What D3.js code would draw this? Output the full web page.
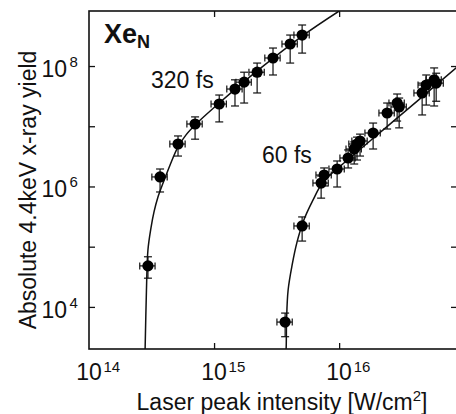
<!DOCTYPE html>
<html>
<head>
<meta charset="utf-8">
<script src="https://cdn.jsdelivr.net/npm/d3@7"></script>
<style>
  html, body { margin: 0; padding: 0; background: #fff; }
  svg { display: block; font-family: "Liberation Sans", Arial, sans-serif; }
</style>
</head>
<body>
<svg id="chart" width="456" height="414"></svg>
<script>
// ---- Measured 4.4 keV x-ray yields, 320 fs pulses ----
const fs320Intensity = [2.96e14, 3.70e14, 5.15e14, 7.05e14, 1.10e15, 1.47e15, 1.74e15, 2.21e15, 2.96e15, 4.06e15, 5.06e15];
const fs320Yield     = [4.8e4, 1.44e6, 5.07e6, 1.09e7, 2.34e7, 4.15e7, 5.4e7, 7.9e7, 1.36e8, 2.32e8, 3.27e8];
const fs320YieldHi   = [6.8e4, 1.95e6, 6.9e6, 1.43e7, 3.3e7, 5.9e7, 7.9e7, 1.12e8, 1.99e8, 3.27e8, 4.8e8];
const fs320YieldLo   = [3.0e4, 8.1e5, 3.2e6, 6.1e6, 1.18e7, 2.17e7, 2.43e7, 3.57e7, 7.1e7, 1.12e8, 1.64e8];

// ---- Measured 4.4 keV x-ray yields, 60 fs pulses ----
const fs60Intensity = [3.70e15, 5.06e15, 7.18e15, 7.59e15, 9.64e15, 1.18e16, 1.32e16, 1.39e16, 1.47e16, 1.87e16, 2.42e16, 2.91e16, 3.02e16, 4.61e16, 4.97e16, 5.75e16, 5.97e16];
const fs60Yield     = [5.6e3, 2.21e5, 1.14e6, 1.55e6, 1.95e6, 2.97e6, 4.19e6, 5.07e6, 5.69e6, 7.73e6, 1.66e7, 2.43e7, 2.09e7, 3.57e7, 4.84e7, 5.9e7, 5.2e7];
const fs60YieldHi   = [7.9e3, 3.12e5, 1.49e6, 2.03e6, 2.65e6, 4.04e6, 5.5e6, 6.6e6, 7.4e6, 1.13e7, 2.43e7, 3.43e7, 2.94e7, 5.2e7, 7.1e7, 9.3e7, 7.6e7];
const fs60YieldLo   = [3.2e3, 1.24e5, 6.4e5, 1.02e6, 9.8e5, 2.03e6, 2.36e6, 2.75e6, 3.2e6, 4.19e6, 9.0e6, 1.22e7, 9.4e6, 1.54e7, 2.25e7, 2.17e7, 2.6e7];

// Relative uncertainty of the laser peak intensity
const intensityRelErr = 0.14;

// ---- Model curves ----
const fs320FitIntensity = [2.78e14, 2.81e14, 2.88e14, 2.96e14, 3.13e14, 3.31e14, 3.56e14, 3.91e14, 4.45e14, 5.15e14, 5.97e14, 7.05e14, 1.10e15, 2.21e15, 5.06e15, 1.0e16];
const fs320FitYield     = [9.0e2, 2.0e3, 1.91e4, 8.8e4, 2.05e5, 3.78e5, 6.7e5, 1.14e6, 2.28e6, 4.53e6, 7.2e6, 1.05e7, 2.43e7, 8.3e7, 3.15e8, 8.2e8];
const fs60FitIntensity  = [3.68e15, 3.77e15, 3.80e15, 3.91e15, 4.21e15, 4.61e15, 5.15e15, 6.19e15, 7.45e15, 1.22e16, 2.25e16, 4.21e16, 8.63e16, 9.64e16];
const fs60FitYield      = [9.0e2, 2.0e3, 6.1e3, 1.91e4, 4.98e4, 1.20e5, 2.58e5, 5.97e5, 1.19e6, 2.97e6, 8.7e6, 2.62e7, 9.3e7, 1.12e8];

// ---- Axes ----
const xDomain = [1e14, 8.6e16];
const yDomain = [2.0e3, 8.2e8];
const xTickValues = [1e14, 1e15, 1e16];
const xTickExponents = ["14", "15", "16"];
const yTickValues = [1e4, 1e5, 1e6, 1e7, 1e8];
const yLabelValues = [1e4, 1e6, 1e8];
const yLabelExponents = ["4", "6", "8"];

const xTitle = "Laser peak intensity [W/cm";
const yTitle = "Absolute 4.4keV x-ray yield";
const seriesLabels = ["320 fs", "60 fs"];

// ---- Layout ----
const plot = { left: 89, top: 11, right: 457, bottom: 349 };
const svg = d3.select("#chart");

const x = d3.scaleLog().domain(xDomain).range([plot.left, 456]);
const y = d3.scaleLog().domain(yDomain).range([plot.bottom, plot.top]);

svg.append("defs").append("clipPath").attr("id", "plotClip")
  .append("rect")
  .attr("x", plot.left).attr("y", plot.top)
  .attr("width", plot.right - plot.left).attr("height", plot.bottom - plot.top);

// Frame
svg.append("rect")
  .attr("x", plot.left).attr("y", plot.top)
  .attr("width", plot.right - plot.left).attr("height", plot.bottom - plot.top)
  .attr("fill", "none").attr("stroke", "#111").attr("stroke-width", 1.6);

// Inward ticks on all sides
const tickLen = 6;
const axisStyle = g => {
  g.select(".domain").remove();
  g.selectAll(".tick line").attr("stroke", "#111").attr("stroke-width", 1.3);
  g.selectAll(".tick text").remove();
};
svg.append("g").attr("transform", `translate(${plot.left},0)`)
  .call(d3.axisLeft(y).tickValues(yTickValues).tickSize(-tickLen)).call(axisStyle);
svg.append("g").attr("transform", `translate(456,0)`)
  .call(d3.axisRight(y).tickValues(yTickValues).tickSize(-tickLen + 1)).call(axisStyle);
svg.append("g").attr("transform", `translate(0,${plot.bottom})`)
  .call(d3.axisBottom(x).tickValues(xTickValues.slice(1)).tickSize(-tickLen)).call(axisStyle);
svg.append("g").attr("transform", `translate(0,${plot.top})`)
  .call(d3.axisTop(x).tickValues(xTickValues.slice(1)).tickSize(-tickLen)).call(axisStyle);

// Tick labels: 10 with a superscript exponent
const labelFont = 23, supFont = 15;
xTickValues.forEach((v, i) => {
  const px = x(v);
  svg.append("text").attr("x", px).attr("y", 380)
    .attr("text-anchor", "middle").attr("font-size", labelFont).attr("fill", "#111").text("10");
  svg.append("text").attr("x", px + 14.5).attr("y", 372)
    .attr("font-size", supFont).attr("fill", "#111").text(xTickExponents[i]);
});
yLabelValues.forEach((v, i) => {
  const py = y(v);
  svg.append("text").attr("x", 67).attr("y", py + 11)
    .attr("text-anchor", "end").attr("font-size", labelFont).attr("fill", "#111").text("10");
  svg.append("text").attr("x", 69.5).attr("y", py + 1)
    .attr("font-size", supFont).attr("fill", "#111").text(yLabelExponents[i]);
});

// Axis titles
const xt = svg.append("text").attr("x", 282).attr("y", 410)
  .attr("text-anchor", "middle").attr("font-size", 23).attr("fill", "#111");
xt.append("tspan").text(xTitle);
xt.append("tspan").attr("font-size", 15).attr("dy", -9).text("2");
xt.append("tspan").attr("dy", 9).text("]");

svg.append("text")
  .attr("transform", "translate(36,190) rotate(-90)")
  .attr("text-anchor", "middle").attr("font-size", 23).attr("fill", "#111")
  .text(yTitle);

// Panel label
const pl = svg.append("text").attr("x", 104).attr("y", 43)
  .attr("font-size", 27).attr("font-weight", "bold").attr("fill", "#111");
pl.append("tspan").text("Xe");
pl.append("tspan").attr("font-size", 18).attr("dy", 5).text("N");

// Series labels
svg.append("text").attr("x", 151).attr("y", 88).attr("font-size", 23).attr("fill", "#111").text(seriesLabels[0]);
svg.append("text").attr("x", 262).attr("y", 163).attr("font-size", 23).attr("fill", "#111").text(seriesLabels[1]);

// ---- Data layer ----
const layer = svg.append("g").attr("clip-path", "url(#plotClip)");

const line = d3.line().x(d => x(d[0])).y(d => y(d[1])).curve(d3.curveCatmullRom.alpha(0.5));
[[fs320FitIntensity, fs320FitYield], [fs60FitIntensity, fs60FitYield]].forEach(([xs, ys]) => {
  layer.append("path")
    .datum(d3.zip(xs, ys))
    .attr("d", line)
    .attr("fill", "none").attr("stroke", "#111").attr("stroke-width", 1.5);
});

const series = [
  { I: fs320Intensity, Y: fs320Yield, hi: fs320YieldHi, lo: fs320YieldLo },
  { I: fs60Intensity,  Y: fs60Yield,  hi: fs60YieldHi,  lo: fs60YieldLo }
];
const capV = 4, capH = 3.5;
series.forEach(s => {
  const pts = s.I.map((I, i) => ({ I, Y: s.Y[i], hi: s.hi[i], lo: s.lo[i] }));
  const eb = layer.append("g").attr("stroke", "#111").attr("stroke-width", 1.2);
  pts.forEach(p => {
    const cx = x(p.I), cy = y(p.Y), yt = y(p.hi), yb = y(p.lo);
    const xl = x(p.I * (1 - intensityRelErr)), xr = x(p.I * (1 + intensityRelErr));
    eb.append("line").attr("x1", cx).attr("x2", cx).attr("y1", yt).attr("y2", yb);
    eb.append("line").attr("x1", cx - capV).attr("x2", cx + capV).attr("y1", yt).attr("y2", yt);
    eb.append("line").attr("x1", cx - capV).attr("x2", cx + capV).attr("y1", yb).attr("y2", yb);
    eb.append("line").attr("x1", xl).attr("x2", xr).attr("y1", cy).attr("y2", cy);
    eb.append("line").attr("x1", xl).attr("x2", xl).attr("y1", cy - capH).attr("y2", cy + capH);
    eb.append("line").attr("x1", xr).attr("x2", xr).attr("y1", cy - capH).attr("y2", cy + capH);
  });
  layer.append("g").selectAll("circle").data(pts).join("circle")
    .attr("cx", d => x(d.I)).attr("cy", d => y(d.Y)).attr("r", 5.6).attr("fill", "#000");
});
</script>
</body>
</html>
